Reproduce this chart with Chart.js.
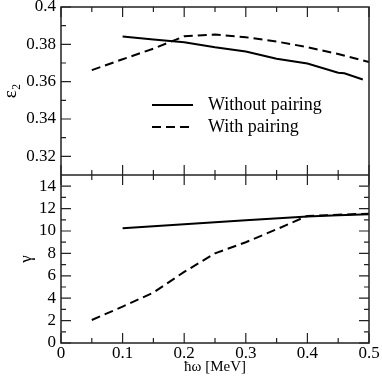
<!DOCTYPE html>
<html>
<head>
<meta charset="utf-8">
<script src="https://cdn.jsdelivr.net/npm/chart.js@4.4.1/dist/chart.umd.min.js"></script>
<style>
  html, body { margin: 0; padding: 0; background: #fff; }
</style>
</head>
<body>
<canvas id="chart" width="382" height="382"></canvas>
<script>
// rotational frequency (MeV)
const omegaNoPair = [0.1, 0.15, 0.2, 0.25, 0.3, 0.35, 0.4, 0.45, 0.46, 0.49];
const epsNoPair = [0.3842, 0.3826, 0.3811, 0.3784, 0.3762, 0.3723, 0.3697, 0.3648, 0.3645, 0.3612];

const omegaPair = [0.05, 0.1, 0.15, 0.2, 0.25, 0.3, 0.35, 0.4, 0.45, 0.5];
const epsPair = [0.3662, 0.372, 0.3777, 0.3843, 0.3853, 0.3838, 0.3815, 0.3785, 0.3748, 0.3705];

const omegaGammaNoPair = [0.1, 0.2, 0.3, 0.4, 0.45, 0.5];
const gammaNoPair = [10.25, 10.6, 10.95, 11.3, 11.4, 11.5];
const gammaPair = [2.05, 3.25, 4.5, 6.35, 8.0, 9.0, 10.15, 11.35, 11.45, 11.55];

const xTicks = [0, 0.1, 0.2, 0.3, 0.4, 0.5];
const epsTicks = [0.32, 0.34, 0.36, 0.38, 0.4];
const gammaTicks = [0, 2, 4, 6, 8, 10, 12, 14];

const FONT = "'Liberation Serif', 'Times New Roman', serif";
const TICK_FONT = { family: FONT, size: 17 };

const pts = (xs, ys) => xs.map((x, i) => ({ x: x, y: ys[i] }));
const mids = (arr) => arr.slice(1).map((v, i) => (v + arr[i]) / 2);

// inward ticks + frame, like the original plotting program
const framePlugin = {
  id: 'frame',
  afterDatasetsDraw(chart) {
    const { ctx, chartArea: a, scales } = chart;
    const x = scales.x, yTop = scales.yTop, yBot = scales.yBot;
    const m = yTop.bottom;
    ctx.save();
    ctx.strokeStyle = '#222';
    ctx.lineWidth = 1.5;
    ctx.strokeRect(a.left, a.top, a.right - a.left, a.bottom - a.top);
    ctx.beginPath();
    ctx.moveTo(a.left, m);
    ctx.lineTo(a.right, m);
    ctx.stroke();

    ctx.lineWidth = 1.2;
    ctx.beginPath();
    const xt = (v, len) => {
      const px = x.getPixelForValue(v);
      ctx.moveTo(px, a.top); ctx.lineTo(px, a.top + len);
      ctx.moveTo(px, m - len); ctx.lineTo(px, m + len);
      ctx.moveTo(px, a.bottom); ctx.lineTo(px, a.bottom - len);
    };
    xTicks.forEach((v) => xt(v, 10));
    mids(xTicks).forEach((v) => xt(v, 5));

    const yt = (scale, v, len, both) => {
      const py = scale.getPixelForValue(v);
      ctx.moveTo(a.left, py); ctx.lineTo(a.left + len, py);
      if (both) { ctx.moveTo(a.right, py); ctx.lineTo(a.right - len, py); }
    };
    epsTicks.forEach((v) => yt(yTop, v, 10, false));
    mids(epsTicks).forEach((v) => yt(yTop, v, 5, false));
    gammaTicks.forEach((v) => yt(yBot, v, 10, true));
    mids(gammaTicks).forEach((v) => yt(yBot, v, 5, true));
    ctx.stroke();
    ctx.restore();
  }
};

// legend drawn inside the upper panel
const legendPlugin = {
  id: 'insideLegend',
  afterDraw(chart) {
    const { ctx, chartArea: a } = chart;
    const items = [
      { label: 'Without pairing', dash: [] },
      { label: 'With pairing', dash: [9, 5] }
    ];
    ctx.save();
    items.forEach((it, i) => {
      const y = a.top + 98 + i * 22;
      const x0 = a.left + 91;
      ctx.strokeStyle = '#000';
      ctx.lineWidth = 2;
      ctx.setLineDash(it.dash);
      ctx.beginPath();
      ctx.moveTo(x0, y);
      ctx.lineTo(x0 + 41, y);
      ctx.stroke();
      ctx.setLineDash([]);
      ctx.fillStyle = '#000';
      ctx.font = "18px " + FONT;
      ctx.textBaseline = 'middle';
      ctx.textAlign = 'left';
      ctx.fillText(it.label, x0 + 56, y);
    });
    ctx.restore();
  }
};

const fixWidth = (s) => {
  s.width = 61;
  s.paddingTop = 0;
  s.paddingBottom = 0;
};

const yCommon = {
  type: 'linear',
  position: 'left',
  stack: 'panels',
  stackWeight: 1,
  grid: { display: false, drawTicks: false },
  border: { display: false },
  afterFit: fixWidth
};

const yTicks = { padding: 5, color: '#000', font: TICK_FONT, autoSkip: false, callback: (v) => String(v) };

new Chart(document.getElementById('chart'), {
  type: 'line',
  data: {
    datasets: [
      {
        label: 'Without pairing',
        data: pts(omegaNoPair, epsNoPair),
        yAxisID: 'yTop',
        borderColor: '#000', borderWidth: 2, pointRadius: 0, tension: 0
      },
      {
        label: 'With pairing',
        data: pts(omegaPair, epsPair),
        yAxisID: 'yTop',
        borderColor: '#000', borderWidth: 2, borderDash: [9, 5], pointRadius: 0, tension: 0
      },
      {
        label: 'Without pairing (gamma)',
        data: pts(omegaGammaNoPair, gammaNoPair),
        yAxisID: 'yBot',
        borderColor: '#000', borderWidth: 2, pointRadius: 0, tension: 0
      },
      {
        label: 'With pairing (gamma)',
        data: pts(omegaPair, gammaPair),
        yAxisID: 'yBot',
        borderColor: '#000', borderWidth: 2, borderDash: [9, 5], pointRadius: 0, tension: 0
      }
    ]
  },
  options: {
    responsive: false,
    animation: false,
    events: [],
    layout: { padding: { top: 7, right: 13, left: 0, bottom: 0 } },
    plugins: { legend: { display: false }, tooltip: { enabled: false } },
    scales: {
      x: {
        type: 'linear',
        min: 0,
        max: 0.5,
        grid: { display: false, drawTicks: false },
        border: { display: false },
        afterBuildTicks: (s) => { s.ticks = xTicks.map((v) => ({ value: v })); },
        afterFit: (s) => { s.height = 39; s.paddingLeft = 0; s.paddingRight = 0; },
        ticks: {
          padding: 0,
          color: '#000',
          font: TICK_FONT,
          maxRotation: 0,
          autoSkip: false,
          callback: (v) => String(v)
        },
        title: {
          display: true,
          text: 'ħω [MeV]',
          color: '#000',
          font: { family: FONT, size: 15 },
          padding: { top: 0, bottom: 6 }
        }
      },
      yTop: Object.assign({}, yCommon, {
        min: 0.31,
        max: 0.4,
        weight: 2,
        afterBuildTicks: (s) => { s.ticks = epsTicks.map((v) => ({ value: v })); },
        ticks: yTicks,
        title: { display: true, text: 'ε₂', color: '#000', font: { family: FONT, size: 19 }, padding: { top: 0, bottom: 0 } }
      }),
      yBot: Object.assign({}, yCommon, {
        min: 0,
        max: 15,
        weight: 1,
        afterBuildTicks: (s) => { s.ticks = gammaTicks.map((v) => ({ value: v })); },
        ticks: yTicks,
        title: { display: true, text: 'γ', color: '#000', font: { family: FONT, size: 17 }, padding: { top: 16, bottom: 0 } }
      })
    }
  },
  plugins: [framePlugin, legendPlugin]
});
</script>
</body>
</html>
